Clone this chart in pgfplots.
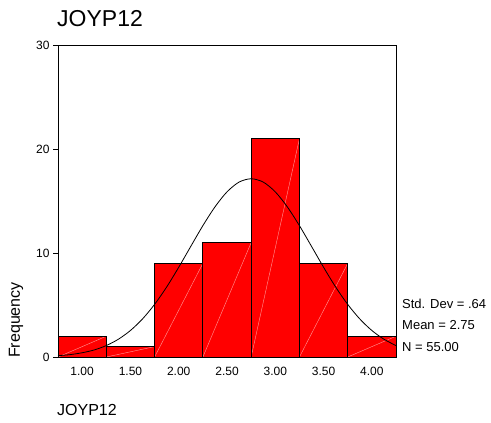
\documentclass[border=0pt]{standalone}
\usepackage{fontspec}
\setmainfont{Liberation Sans}
\usepackage{pgfplots}
\pgfplotsset{compat=1.18}
\begin{document}
\begin{tikzpicture}[x=1bp,y=1bp]
\useasboundingbox (0,0) rectangle (491,-422);
\begin{axis}[
  at={(58bp,-357bp)}, anchor=south west,
  scale only axis, width=338bp, height=312bp,
  xmin=0.75, xmax=4.25, ymin=0, ymax=30,
  axis line style={line width=0.9pt},
  xtick={1,1.5,2,2.5,3,3.5,4},
  xticklabels={1.00,1.50,2.00,2.50,3.00,3.50,4.00},
  ytick={0,10,20,30},
  tick align=outside, ytick pos=left, xtick pos=bottom,
  major tick length=5bp,
  ytick style={line width=0.8pt, black},
  xtick style={draw=none},
  /pgf/number format/assume math mode=true,
  tick label style={font=\fontsize{12bp}{14bp}\selectfont},
  xticklabel style={yshift=-2bp},
  clip=false,
  unbounded coords=jump,
]
\addplot[ybar interval, fill=red, draw=none] coordinates {
  (0.75,2) (1.25,1) (1.75,9) (2.25,11) (2.75,21) (3.25,9) (3.75,2) (4.25,2)
};
\addplot[white, opacity=0.6, line width=0.4pt] coordinates {
  (0.75,0) (1.25,2) (1.25,nan)
  (1.25,0) (1.75,1) (1.75,nan)
  (1.75,0) (2.25,9) (2.25,nan)
  (2.25,0) (2.75,11) (2.75,nan)
  (2.75,0) (3.25,21) (3.25,nan)
  (3.25,0) (3.75,9) (3.75,nan)
  (3.75,0) (4.25,2)
};
\addplot[ybar interval, fill=none, draw=black, line width=0.9pt] coordinates {
  (0.75,2) (1.25,1) (1.75,9) (2.25,11) (2.75,21) (3.25,9) (3.75,2) (4.25,2)
};
\addplot[black, line width=0.8pt, smooth] coordinates {
  (0.75,0.13) (0.875,0.23) (1.0,0.41) (1.125,0.68) (1.25,1.10) (1.375,1.71)
  (1.5,2.55) (1.625,3.66) (1.75,5.06) (1.875,6.73) (2.0,8.63) (2.125,10.64)
  (2.25,12.63) (2.375,14.43) (2.5,15.88) (2.625,16.82) (2.75,17.14)
  (2.875,16.82) (3.0,15.88) (3.125,14.43) (3.25,12.63) (3.375,10.64)
  (3.5,8.63) (3.625,6.73) (3.75,5.06) (3.875,3.66) (4.0,2.55) (4.125,1.71)
  (4.25,1.10)
};
\end{axis}
\node[anchor=base west, inner sep=0pt, font=\fontsize{23bp}{26bp}\selectfont] at (57,-26) {JOYP12};
\node[anchor=base west, inner sep=0pt, font=\fontsize{16bp}{18bp}\selectfont] at (57,-415) {JOYP12};
\node[rotate=90, anchor=center, inner sep=0pt, font=\fontsize{16bp}{18bp}\selectfont] at (16,-320) {Frequency};
\node[anchor=west, inner sep=0pt, font=\fontsize{13bp}{15bp}\selectfont] at (402,-304) {Std. Dev = .64};
\node[anchor=west, inner sep=0pt, font=\fontsize{13bp}{15bp}\selectfont] at (402,-325) {Mean = 2.75};
\node[anchor=west, inner sep=0pt, font=\fontsize{13bp}{15bp}\selectfont] at (402,-347) {N = 55.00};
\end{tikzpicture}
\end{document}
